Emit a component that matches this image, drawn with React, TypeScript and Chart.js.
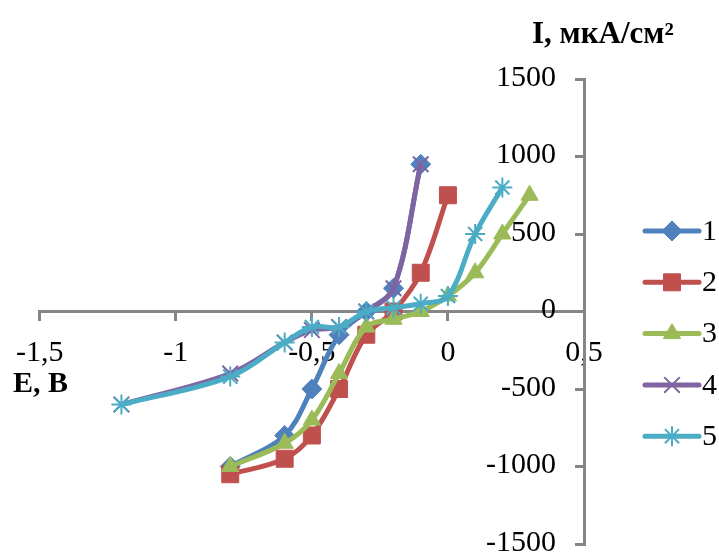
import React, { useEffect, useRef } from 'react';
import { Chart, registerables } from 'chart.js';
import { drawPoint } from 'chart.js/helpers';

Chart.register(...registerables);

// ---- data ----
const seriesNames = ['1', '2', '3', '4', '5'];
const e1 = [-0.8, -0.6, -0.5, -0.4, -0.3, -0.2, -0.1];
const i1 = [-1000, -800, -500, -150, 0, 150, 950];
const e2 = [-0.8, -0.6, -0.5, -0.4, -0.3, -0.2, -0.1, 0];
const i2 = [-1050, -950, -800, -500, -150, 0, 250, 750];
const e3 = [-0.8, -0.6, -0.5, -0.4, -0.3, -0.2, -0.1, 0, 0.1, 0.2, 0.3];
const i3 = [-1000, -850, -700, -400, -100, -50, 0, 100, 250, 500, 750];
const e4 = [-1.2, -0.8, -0.6, -0.5, -0.4, -0.3, -0.2, -0.1];
const i4 = [-600, -400, -200, -120, -100, 0, 150, 950];
const e5 = [-1.2, -0.8, -0.6, -0.5, -0.4, -0.3, -0.2, -0.1, 0, 0.1, 0.2];
const i5 = [-600, -420, -200, -100, -100, 0, 25, 50, 100, 500, 800];

const xTitle = 'E, В';
const yTitle = 'I, мкА/см²';

const xs = [e1, e2, e3, e4, e5];
const ys = [i1, i2, i3, i4, i5];
const colors = ['#4F81BD', '#C0504D', '#9BBB59', '#8064A2', '#4BACC6'];
const styles = ['rectRot', 'rect', 'triangle', 'crossRot', 'star'];
const radii = [10, 12, 10, 11, 10];
const pBorder = [1, 1, 1, 2, 2];

const FONT = '"Liberation Serif", "Times New Roman", serif';

const overlay = {
  id: 'overlay',
  afterDraw(chart: any) {
    const ctx = chart.ctx as CanvasRenderingContext2D;
    ctx.save();
    // y tick labels, to the left of the axis line
    const xs0 = chart.scales.x;
    const yS = chart.scales.y;
    const axisX = xs0.getPixelForValue(xs0.max);
    ctx.fillStyle = '#000';
    ctx.font = `30px ${FONT}`;
    ctx.textAlign = 'right';
    ctx.textBaseline = 'middle';
    yS.ticks.forEach((t: any) => {
      ctx.fillText(String(t.value), axisX - 28, yS.getPixelForValue(t.value) - 1);
    });

    ctx.font = `bold 31px ${FONT}`;
    ctx.textAlign = 'left';
    ctx.textBaseline = 'alphabetic';
    ctx.fillText(yTitle, 532, 43);
    ctx.font = `bold 30px ${FONT}`;
    ctx.fillText(xTitle, 13, 392);

    chart.data.datasets.forEach((ds: any, k: number) => {
      const y = 231 + k * 51.3;
      ctx.strokeStyle = ds.borderColor;
      ctx.fillStyle = ds.borderColor;
      ctx.lineWidth = 5;
      ctx.lineCap = 'round';
      ctx.beginPath();
      ctx.moveTo(645, y);
      ctx.lineTo(699, y);
      ctx.stroke();
      ctx.lineCap = 'butt';
      ctx.lineWidth = ds.pointBorderWidth;
      drawPoint(ctx, { pointStyle: ds.pointStyle, radius: ds.pointRadius, borderWidth: ds.pointBorderWidth, rotation: 0 } as any, 672, y);
      ctx.fillStyle = '#000';
      ctx.font = `30px ${FONT}`;
      ctx.textAlign = 'left';
      ctx.textBaseline = 'middle';
      ctx.fillText(ds.label, 702, y + 1);
    });
    ctx.restore();
  },
};

export default function App() {
  const ref = useRef<HTMLCanvasElement | null>(null);
  useEffect(() => {
    if (!ref.current) return;
    const datasets = seriesNames.map((name, k) => ({
      label: name,
      data: xs[k].map((x, j) => ({ x, y: ys[k][j] })),
      borderColor: colors[k],
      backgroundColor: colors[k],
      pointBackgroundColor: colors[k],
      pointBorderColor: colors[k],
      borderWidth: 5,
      pointStyle: styles[k],
      pointRadius: radii[k],
      pointBorderWidth: pBorder[k],
      tension: 0.35,
      order: 4 - k,
    }));
    const chart = new Chart(ref.current, {
      type: 'line',
      data: { datasets } as any,
      options: {
        animation: false,
        responsive: false,
        events: [],
        layout: { padding: { left: 38, right: 135, top: 79, bottom: 31 } },
        plugins: { legend: { display: false }, tooltip: { enabled: false } },
        scales: {
          x: {
            type: 'linear',
            min: -1.5,
            max: 0.5,
            position: { y: 0 } as any,
            ticks: {
              stepSize: 0.5,
              color: '#000',
              padding: 16,
              font: { size: 30, family: FONT },
              callback: (v: any) => String(v).replace('.', ','),
            },
            grid: { drawOnChartArea: false, drawTicks: true, tickLength: 8, color: '#868686', lineWidth: 3 },
            border: { color: '#868686', width: 3 },
          },
          y: {
            type: 'linear',
            min: -1500,
            max: 1500,
            position: { x: 0.5 } as any,
            ticks: {
              stepSize: 500,
              display: false,
            },
            grid: { drawOnChartArea: false, drawTicks: true, tickLength: 8, color: '#868686', lineWidth: 3 },
            border: { color: '#868686', width: 3 },
          },
        },
      } as any,
      plugins: [overlay],
    });
    return () => chart.destroy();
  }, []);
  return (
    <div style={{ position: 'fixed', left: 0, top: 0, width: 719, height: 555, overflow: 'hidden', background: '#fff' }}>
      <canvas ref={ref} width={719} height={575} style={{ display: 'block', width: 719, height: 575 }} />
    </div>
  );
}
